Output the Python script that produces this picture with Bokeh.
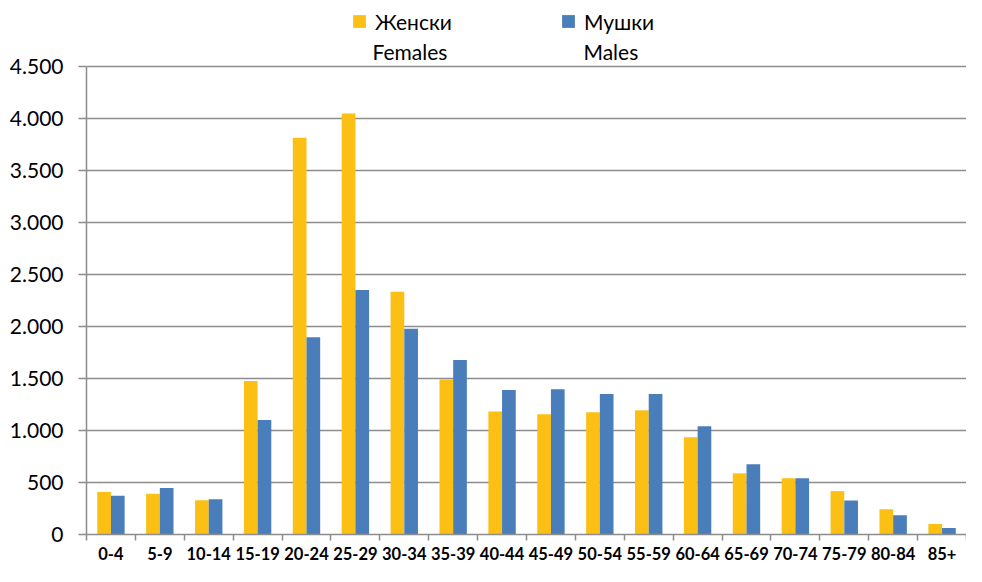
from bokeh.plotting import figure
from bokeh.models import ColumnDataSource, FixedTicker, Legend, LegendItem, Range1d, Label
from bokeh.embed import file_html
from bokeh.resources import INLINE

categories = ["0-4", "5-9", "10-14", "15-19", "20-24", "25-29", "30-34", "35-39", "40-44",
              "45-49", "50-54", "55-59", "60-64", "65-69", "70-74", "75-79", "80-84", "85+"]
females = [408, 392, 329, 1477, 3816, 4049, 2333, 1490, 1182,
           1157, 1176, 1194, 936, 588, 541, 417, 243, 100]
males = [373, 448, 339, 1101, 1897, 2351, 1978, 1679, 1390,
         1397, 1350, 1350, 1042, 675, 541, 327, 184, 62]
y_ticks = [0, 500, 1000, 1500, 2000, 2500, 3000, 3500, 4000, 4500]
y_tick_labels = ["0", "500", "1.000", "1.500", "2.000", "2.500", "3.000", "3.500", "4.000", "4.500"]
series_local = ["Женски", "Мушки"]
series_en = ["Females", "Males"]

FONT = "Lato"
YELLOW = "#FCC014"
BLUE = "#4A7EBB"
GRID = "#8C8C8C"

n = len(categories)
centers = [i + 0.5 for i in range(n)]
bw = 0.28
src = ColumnDataSource(dict(
    xf=[c - bw / 2 for c in centers],
    xm=[c + bw / 2 for c in centers],
    f=females, m=males))

LEFT = 86
FW, FH = 880, 534
Y_TOP_PX = 66           # pixel position of the top tick inside the frame
y_max = y_ticks[-1]
y_end = y_max * FH / (FH - Y_TOP_PX)

p = figure(frame_width=FW, frame_height=FH, output_backend="svg", toolbar_location=None,
           x_range=Range1d(0, n), y_range=Range1d(0, y_end),
           min_border_left=LEFT, min_border_right=0, min_border_top=0, min_border_bottom=0)
p.outline_line_color = None
p.background_fill_color = "white"
p.border_fill_color = "white"

rf = p.vbar(x="xf", top="f", width=bw, source=src, fill_color=YELLOW, line_color=None)
rm = p.vbar(x="xm", top="m", width=bw, source=src, fill_color=BLUE, line_color=None)

# square swatches used only for the legend (hidden on the plot)
lf = p.scatter(x="xf", y="f", source=src, marker="square", size=13,
               fill_color=YELLOW, line_color=None, visible=False)
lm = p.scatter(x="xm", y="m", source=src, marker="square", size=13,
               fill_color=BLUE, line_color=None, visible=False)

# x axis
p.xaxis.ticker = FixedTicker(ticks=centers, minor_ticks=list(range(n + 1)))
p.xaxis.major_label_overrides = {c: lab for c, lab in zip(centers, categories)}
p.xaxis.major_tick_out = 0
p.xaxis.major_tick_in = 0
p.xaxis.minor_tick_out = 6
p.xaxis.minor_tick_in = 0
p.xaxis.minor_tick_line_color = GRID
p.xaxis.minor_tick_line_width = 1.5
p.xaxis.axis_line_color = GRID
p.xaxis.axis_line_width = 1.5
p.xaxis.major_label_text_font = FONT
p.xaxis.major_label_text_font_style = "bold"
p.xaxis.major_label_text_font_size = "16.5px"
p.xaxis.major_label_text_color = "#000000"
p.xaxis.major_label_standoff = 6
p.xgrid.grid_line_color = None

# y axis
p.yaxis.ticker = FixedTicker(ticks=y_ticks)
p.yaxis.bounds = (0, y_max)
p.yaxis.major_label_overrides = {t: l for t, l in zip(y_ticks, y_tick_labels)}
p.yaxis.minor_tick_line_color = None
p.yaxis.major_tick_out = 8
p.yaxis.major_tick_in = 0
p.yaxis.major_tick_line_color = GRID
p.yaxis.major_tick_line_width = 1.5
p.yaxis.axis_line_color = GRID
p.yaxis.axis_line_width = 1.5
p.yaxis.major_label_text_font = FONT
p.yaxis.major_label_text_font_size = "21px"
p.yaxis.major_label_text_color = "#000000"
p.yaxis.major_label_standoff = 15
p.ygrid.grid_line_color = GRID
p.ygrid.grid_line_width = 1.5

legend = Legend(items=[LegendItem(label=series_local[0], renderers=[lf]),
                       LegendItem(label=series_local[1], renderers=[lm])],
                orientation="horizontal", location=(257, FH - 37),
                label_text_font=FONT, label_text_font_size="21px",
                label_text_color="#000000", glyph_width=32, glyph_height=32,
                label_standoff=0, spacing=100, border_line_color=None,
                background_fill_alpha=0, padding=0, margin=0,
                inactive_fill_alpha=0)
p.add_layout(legend, "center")

for i, txt in enumerate(series_en):
    p.add_layout(Label(x=286 + i * 211, y=FH - 51, x_units="screen", y_units="screen",
                       text=txt, text_font=FONT, text_font_size="21px", text_color="#000000",
                       text_baseline="middle"))

open("out.html", "w").write(file_html(p, INLINE))
